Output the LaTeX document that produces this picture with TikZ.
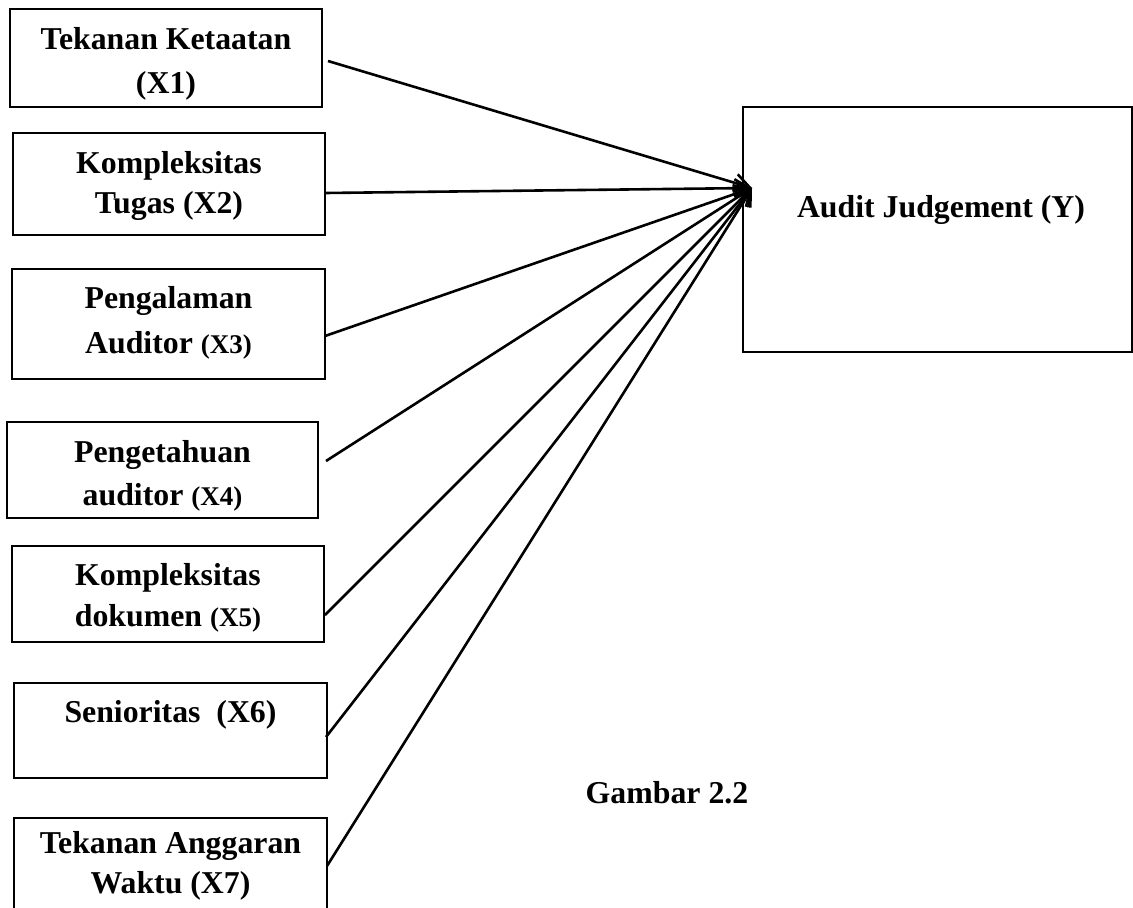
\documentclass[tikz,border=0pt]{standalone}
\usepackage{fontspec}
\setmainfont{Liberation Serif}
\usetikzlibrary{arrows.meta}
\begin{document}
\begin{tikzpicture}[x=1pt,y=-1pt,
  box/.style={draw,line width=1.5pt,inner sep=0pt},
  lbl/.style={anchor=base,inner sep=0pt,font=\fontsize{31.8}{38}\bfseries},
  conn/.style={line width=2.6pt,-{Straight Barb[length=15pt,width=18pt,line width=2.6pt]}}]
\newcommand{\sm}[1]{{\fontsize{27}{32}\selectfont #1}}
\useasboundingbox (0,0) rectangle (1133,908);
% boxes
\node[box,minimum width=312pt,minimum height=98pt] (b1) at (166,58) {};
\node[box,minimum width=312pt,minimum height=102pt] (b2) at (169,184) {};
\node[box,minimum width=313pt,minimum height=110pt] (b3) at (168.5,324) {};
\node[box,minimum width=311pt,minimum height=96pt] (b4) at (162.5,470) {};
\node[box,minimum width=312pt,minimum height=96pt] (b5) at (168,594) {};
\node[box,minimum width=313pt,minimum height=95pt] (b6) at (170.5,730.5) {};
\node[box,minimum width=313pt,minimum height=110pt] (b7) at (170.5,873) {};
\node[box,minimum width=389pt,minimum height=245pt] (by) at (937.5,229.5) {};
% labels
\node[lbl] (t1a) at (166,49) {Tekanan Ketaatan};
\node[lbl] (t1b) at (166,93) {(X1)};
\node[lbl] (t2a) at (169,173) {Kompleksitas};
\node[lbl] (t2b) at (169,213) {Tugas (X2)};
\node[lbl] (t3a) at (168.5,308) {Pengalaman};
\node[lbl] (t3b) at (168.5,353) {Auditor \sm{(X3)}};
\node[lbl] (t4a) at (162.5,462) {Pengetahuan};
\node[lbl] (t4b) at (162.5,505) {auditor \sm{(X4)}};
\node[lbl] (t5a) at (168,585) {Kompleksitas};
\node[lbl] (t5b) at (168,626) {dokumen \sm{(X5)}};
\node[lbl] (t6a) at (170.5,722) {Senioritas\ \ (X6)};
\node[lbl] (t7a) at (170.5,853) {Tekanan Anggaran};
\node[lbl] (t7b) at (170.5,893) {Waktu (X7)};
\node[lbl] (ty) at (941,217) {Audit Judgement (Y)};
\node[lbl] (gam) at (667,803) {Gambar 2.2};
% connector start points and target
\coordinate (tip) at (752,188);
\coordinate (s1) at (328,61);
\coordinate (s2) at (325,193);
\coordinate (s3) at (325,336);
\coordinate (s4) at (326,461);
\coordinate (s5) at (325,615);
\coordinate (s6) at (326,737);
\coordinate (s7) at (327,866);
\foreach \i in {1,...,7} \draw[conn] (s\i) -- (tip);
\end{tikzpicture}
\end{document}
